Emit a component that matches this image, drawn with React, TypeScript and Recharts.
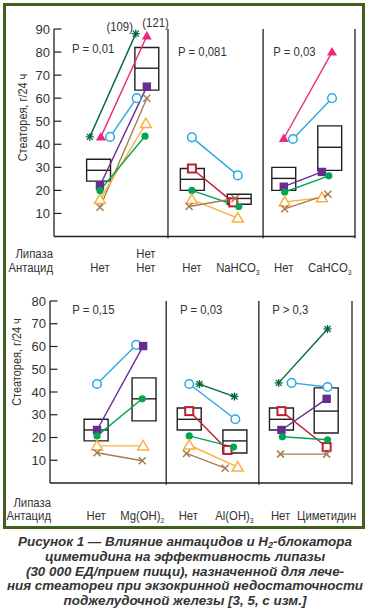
import React from "react";
import {
  ComposedChart,
  Line,
  XAxis,
  YAxis,
  ReferenceArea,
  ReferenceLine,
  ReferenceDot,
} from "recharts";

type Marker =
  | "star"
  | "triFill"
  | "circleOpen"
  | "squareFill"
  | "cross"
  | "triOpen"
  | "dot"
  | "squareOpen";
type Pair = { m: Marker; pts: [number, number][] };

const CATEGORIES = [1, 2, 3, 4, 5, 6];
const TOP_Y_TICKS = [10, 20, 30, 40, 50, 60, 70, 80, 90];
const BOTTOM_Y_TICKS = [10, 20, 30, 40, 50, 60, 70, 80];

const TOP_LIPASE = ["", "Нет", "", "", "", ""];
const TOP_ANTACID: [string, string][] = [
  ["Нет", ""],
  ["Нет", ""],
  ["Нет", ""],
  ["NaHCO", "3"],
  ["Нет", ""],
  ["CaHCO", "3"],
];
const BOTTOM_LIPASE = ["", "", "", "", "", ""];
const BOTTOM_ANTACID: [string, string][] = [
  ["Нет", ""],
  ["Mg(OH)", "2"],
  ["Нет", ""],
  ["Al(OH)", "3"],
  ["Нет", ""],
  ["Циметидин", ""],
];

// one patient = one pair of points (without / with antacid)
const TOP_SERIES: Pair[] = [
  { m: "star", pts: [[0.78, 43.2], [1.78, 88]] },
  { m: "triFill", pts: [[1.02, 43.2], [2.02, 87]] },
  { m: "circleOpen", pts: [[1.22, 43.2], [1.8, 60]] },
  { m: "squareFill", pts: [[1.0, 22], [2.02, 65]] },
  { m: "cross", pts: [[1.0, 12.7], [2.02, 60]] },
  { m: "triOpen", pts: [[1.0, 16], [2.0, 49]] },
  { m: "dot", pts: [[1.0, 20], [1.98, 43.5]] },

  { m: "circleOpen", pts: [[3.0, 43], [4.0, 26.5]] },
  { m: "squareOpen", pts: [[3.0, 29.5], [3.9, 14.8]] },
  { m: "dot", pts: [[3.0, 20], [4.02, 13]] },
  { m: "triOpen", pts: [[3.0, 16], [4.0, 8]] },
  { m: "cross", pts: [[2.94, 13], [3.94, 16.5]] },

  { m: "triFill", pts: [[5.0, 42.5], [6.05, 80]] },
  { m: "circleOpen", pts: [[5.2, 42.3], [6.05, 60]] },
  { m: "squareFill", pts: [[5.0, 21.6], [5.83, 28]] },
  { m: "dot", pts: [[5.02, 19.3], [5.98, 26.3]] },
  { m: "triOpen", pts: [[5.02, 15], [5.83, 16.8]] },
  { m: "cross", pts: [[5.02, 12], [5.96, 18.3]] },
];

const BOTTOM_SERIES: Pair[] = [
  { m: "circleOpen", pts: [[1.02, 43.5], [1.87, 60.7]] },
  { m: "squareFill", pts: [[1.02, 23.3], [2.02, 60.2]] },
  { m: "dot", pts: [[1.02, 20.7], [2.0, 37]] },
  { m: "triOpen", pts: [[1.02, 16.3], [2.02, 16.3]] },
  { m: "cross", pts: [[1.02, 13.3], [2.0, 9.8]] },

  { m: "circleOpen", pts: [[3.02, 43.5], [4.02, 28]] },
  { m: "star", pts: [[3.24, 43.5], [4.0, 38]] },
  { m: "squareOpen", pts: [[3.02, 31.6], [3.85, 14.5]] },
  { m: "dot", pts: [[3.02, 20.7], [3.98, 15.8]] },
  { m: "triOpen", pts: [[3.02, 16.7], [4.07, 7]] },
  { m: "cross", pts: [[2.96, 13], [3.8, 6.5]] },

  { m: "star", pts: [[4.96, 44], [6.02, 67.7]] },
  { m: "circleOpen", pts: [[5.24, 44], [6.02, 42.2]] },
  { m: "squareOpen", pts: [[5.02, 31.6], [6.0, 15.8]] },
  { m: "squareFill", pts: [[5.02, 23.3], [6.0, 37]] },
  { m: "dot", pts: [[5.04, 20.3], [6.02, 19]] },
  { m: "cross", pts: [[5.0, 12.7], [6.0, 12.7]] },
];

// [x, q1, median, q3]
const TOP_BOXES = [
  [0.97, 24, 28.7, 33.5],
  [2.02, 63.5, 73, 82],
  [3.01, 20, 24.8, 29.5],
  [4.03, 14, 16.5, 18.3],
  [5.0, 20, 25.2, 30],
  [6.0, 28.7, 38.7, 48],
];
const BOTTOM_BOXES = [
  [1.0, 18.5, 23.3, 28],
  [2.04, 27.3, 37, 46.2],
  [3.02, 23.3, 28, 33],
  [4.01, 13.2, 18.5, 23.3],
  [5.02, 23.3, 28, 33],
  [5.99, 22, 31.6, 41.8],
];

const TOP_DIVIDERS = [2.48, 4.55, 6.55];
const BOTTOM_DIVIDERS = [2.52, 4.53, 6.55];

const TOP_NOTES = [
  { x: 0.39, y: 81.5, text: "P = 0,01", center: false },
  { x: 2.7, y: 80.2, text: "P = 0,081", center: false },
  { x: 4.77, y: 80.2, text: "P = 0,03", center: false },
  { x: 1.43, y: 91.1, text: "(109)", center: true },
  { x: 2.21, y: 92.8, text: "(121)", center: true },
];
const BOTTOM_NOTES = [
  { x: 0.48, y: 76.5, text: "P = 0,15", center: false },
  { x: 2.82, y: 76.5, text: "P = 0,03", center: false },
  { x: 4.82, y: 76.5, text: "P > 0,3", center: false },
];

const COLORS: Record<Marker, string> = {
  star: "#006838",
  triFill: "#ec297b",
  circleOpen: "#27aae1",
  squareFill: "#662d91",
  cross: "#a67c52",
  triOpen: "#fbb040",
  dot: "#00a651",
  squareOpen: "#be1e2d",
};

const FONT = "'Liberation Sans', Arial, sans-serif";
const INK = "#231f20";
const TEXT = "#333";
const BOX_HALF = 0.26;
const SQUEEZE = 0.84; // the print uses a condensed face

// condensed text: horizontal squeeze of the regular face
function NText(props: {
  x: number;
  y: number;
  anchor: "start" | "middle" | "end";
  size?: number;
  rotate?: number;
  children: React.ReactNode;
}) {
  const { x, y, anchor, size = 13.5, rotate = 0, children } = props;
  return (
    <text
      transform={`translate(${x} ${y}) rotate(${rotate}) scale(${SQUEEZE} 1)`}
      textAnchor={anchor}
      fontFamily={FONT}
      fontSize={size}
      fill={TEXT}
    >
      {children}
    </text>
  );
}

function Mark({ cx, cy, m }: { cx: number; cy: number; m: Marker }) {
  const c = COLORS[m];
  switch (m) {
    case "star":
      return (
        <g stroke={c} strokeWidth={1.3}>
          <line x1={cx - 4} y1={cy} x2={cx + 4} y2={cy} />
          <line x1={cx} y1={cy - 4} x2={cx} y2={cy + 4} />
          <line x1={cx - 3} y1={cy - 3} x2={cx + 3} y2={cy + 3} />
          <line x1={cx - 3} y1={cy + 3} x2={cx + 3} y2={cy - 3} />
        </g>
      );
    case "triFill":
      return <polygon points={`${cx},${cy - 5} ${cx + 5},${cy + 3.5} ${cx - 5},${cy + 3.5}`} fill={c} />;
    case "triOpen":
      return (
        <polygon
          points={`${cx},${cy - 5.5} ${cx + 5.5},${cy + 4} ${cx - 5.5},${cy + 4}`}
          fill="#fff"
          stroke={c}
          strokeWidth={1.5}
        />
      );
    case "circleOpen":
      return <circle cx={cx} cy={cy} r={4.3} fill="#fff" stroke={c} strokeWidth={1.5} />;
    case "dot":
      return <circle cx={cx} cy={cy} r={3.6} fill={c} />;
    case "squareFill":
      return <rect x={cx - 4.2} y={cy - 4.2} width={8.4} height={8.4} fill={c} />;
    case "squareOpen":
      return (
        <rect x={cx - 4} y={cy - 4} width={8} height={8} fill="#fff" stroke={c} strokeWidth={2} />
      );
    case "cross":
      return (
        <g stroke={c} strokeWidth={1.5}>
          <line x1={cx - 3.5} y1={cy - 3.5} x2={cx + 3.5} y2={cy + 3.5} />
          <line x1={cx - 3.5} y1={cy + 3.5} x2={cx + 3.5} y2={cy - 3.5} />
        </g>
      );
  }
  return null;
}

function YTick(props: any) {
  const { x, y, payload } = props;
  return (
    <g>
      <line x1={x + 4} x2={x + 11.5} y1={y} y2={y} stroke={INK} strokeWidth={1.2} />
      <text x={x} y={y} dy={4.6} textAnchor="end" fontFamily={FONT} fontSize={13} fill={TEXT}>
        {payload.value}
      </text>
    </g>
  );
}

function makeXTick(lipase: string[], antacid: [string, string][], d1: number, d2: number) {
  return (props: any) => {
    const { x, y, payload } = props;
    const i = CATEGORIES.indexOf(payload.value);
    const [base, sub] = antacid[i] ?? ["", ""];
    return (
      <g>
        <NText x={x} y={y + d1} anchor="middle">
          {lipase[i]}
        </NText>
        <NText x={x} y={y + d2} anchor="middle">
          {base}
          {sub && (
            <tspan fontSize={8} dy={3}>
              {sub}
            </tspan>
          )}
        </NText>
      </g>
    );
  };
}

function makeRowLabels(dx: number, d1: number, d2: number) {
  return (props: any) => {
    const vb = props.viewBox;
    return (
      <g>
        <NText x={vb.x + dx} y={vb.y + d1} anchor="end">
          Липаза
        </NText>
        <NText x={vb.x + dx} y={vb.y + d2} anchor="end">
          Антацид
        </NText>
      </g>
    );
  };
}

function makeYTitle(dx: number, dy: number) {
  return (props: any) => {
    const vb = props.viewBox;
    return (
      <NText x={vb.x + dx + 4.5} y={vb.y + dy} anchor="middle" size={13} rotate={-90}>
        Стеаторея, г/24 ч
      </NText>
    );
  };
}

function noteLabel(text: string, center: boolean) {
  return (lp: any) => {
    const vb = lp.viewBox ?? { x: lp.x, y: lp.y };
    return (
      <NText x={vb.x} y={vb.y + 4.6} anchor={center ? "middle" : "start"}>
        {text}
      </NText>
    );
  };
}

interface PanelProps {
  width: number;
  height: number;
  margin: { top: number; right: number; bottom: number; left: number };
  yMax: number;
  yTicks: number[];
  series: Pair[];
  boxes: number[][];
  dividers: number[];
  notes: { x: number; y: number; text: string; center: boolean }[];
  lipase: string[];
  antacid: [string, string][];
  rowDx: number;
  rowD1: number;
  rowD2: number;
  titleDx: number;
  titleDy: number;
}

function Panel(p: PanelProps) {
  return (
    <ComposedChart width={p.width} height={p.height} margin={p.margin}>
      <XAxis
        type="number"
        dataKey="x"
        domain={[0, 6.55]}
        allowDataOverflow
        ticks={CATEGORIES}
        interval={0}
        axisLine={{ stroke: INK, strokeWidth: 1.3 }}
        tickLine={false}
        tickSize={0}
        tickMargin={0}
        height={30}
        tick={makeXTick(p.lipase, p.antacid, p.rowD1, p.rowD2)}
        label={makeRowLabels(p.rowDx, p.rowD1, p.rowD2)}
      />
      <YAxis
        type="number"
        dataKey="y"
        domain={[0, p.yMax]}
        allowDataOverflow
        ticks={p.yTicks}
        interval={0}
        width={40}
        axisLine={{ stroke: INK, strokeWidth: 1.3 }}
        tickLine={false}
        tickSize={0}
        tickMargin={4}
        tick={YTick}
        label={makeYTitle(p.titleDx, p.titleDy)}
      />
      {p.dividers.map((d, i) => (
        <ReferenceLine
          key={`d${i}`}
          segment={[
            { x: d, y: -0.8 },
            { x: d, y: p.yMax },
          ]}
          stroke={INK}
          strokeWidth={1.3}
          ifOverflow="visible"
        />
      ))}
      {p.boxes.map(([x, q1, , q3], i) => (
        <ReferenceArea
          key={`b${i}`}
          x1={x - BOX_HALF}
          x2={x + BOX_HALF}
          y1={q1}
          y2={q3}
          fill="none"
          fillOpacity={0}
          stroke={INK}
          strokeWidth={1.4}
          ifOverflow="visible"
        />
      ))}
      {p.boxes.map(([x, , med], i) => (
        <ReferenceLine
          key={`m${i}`}
          segment={[
            { x: x - BOX_HALF, y: med },
            { x: x + BOX_HALF, y: med },
          ]}
          stroke={INK}
          strokeWidth={1.4}
          ifOverflow="visible"
        />
      ))}
      {p.series.map((s, i) => (
        <Line
          key={`s${i}`}
          data={s.pts.map(([x, y]) => ({ x, y }))}
          dataKey="y"
          stroke={COLORS[s.m]}
          strokeWidth={1.4}
          isAnimationActive={false}
          activeDot={false}
          dot={(dp: any) => <Mark key={dp.index} cx={dp.cx} cy={dp.cy} m={s.m} />}
        />
      ))}
      {p.notes.map((n, i) => (
        <ReferenceDot
          key={`n${i}`}
          x={n.x}
          y={n.y}
          r={0}
          fill="none"
          stroke="none"
          ifOverflow="visible"
          label={noteLabel(n.text, n.center)}
        />
      ))}
    </ComposedChart>
  );
}

export default function App() {
  return (
    <div
      style={{
        position: "absolute",
        left: 0,
        top: 0,
        width: 370,
        height: 614,
        background: "#fff",
        overflow: "hidden",
      }}
    >
      <div
        style={{
          position: "absolute",
          left: 3,
          top: 3,
          width: 362,
          height: 526,
          border: "3px solid #3f5f20",
          boxSizing: "border-box",
        }}
      />
      <div style={{ position: "absolute", left: 0, top: 0 }}>
        <Panel
          width={370}
          height={280}
          margin={{ top: 29, right: 15, bottom: 13.5, left: 14 }}
          yMax={90}
          yTicks={TOP_Y_TICKS}
          series={TOP_SERIES}
          boxes={TOP_BOXES}
          dividers={TOP_DIVIDERS}
          notes={TOP_NOTES}
          lipase={TOP_LIPASE}
          antacid={TOP_ANTACID}
          rowDx={-1}
          rowD1={21}
          rowD2={35}
          titleDx={8}
          titleDy={88.5}
        />
      </div>
      <div style={{ position: "absolute", left: 0, top: 280 }}>
        <Panel
          width={370}
          height={250}
          margin={{ top: 21, right: 18, bottom: 17, left: 10 }}
          yMax={80}
          yTicks={BOTTOM_Y_TICKS}
          series={BOTTOM_SERIES}
          boxes={BOTTOM_BOXES}
          dividers={BOTTOM_DIVIDERS}
          notes={BOTTOM_NOTES}
          lipase={BOTTOM_LIPASE}
          antacid={BOTTOM_ANTACID}
          rowDx={1}
          rowD1={23.5}
          rowD2={36.5}
          titleDx={6.5}
          titleDy={61}
        />
      </div>
      <div
        style={{
          position: "absolute",
          left: 0,
          top: 535,
          width: 370,
          textAlign: "center",
          fontFamily: "'Liberation Sans', Arial, sans-serif",
          fontWeight: "bold",
          fontStyle: "italic",
          fontSize: 13.4,
          lineHeight: "14.75px",
          color: "#333",
          whiteSpace: "nowrap",
        }}
      >
        Рисунок 1 — Влияние антацидов и H
        <sub style={{ fontSize: 9, verticalAlign: "-2px", lineHeight: 0 }}>2</sub>-блокатора
        <br />
        циметидина на эффективность липазы
        <br />
        (30 000 ЕД/прием пищи), назначенной для лече-
        <br />
        ния стеатореи при экзокринной недостаточности
        <br />
        поджелудочной железы [3, 5, с изм.]
      </div>
    </div>
  );
}
